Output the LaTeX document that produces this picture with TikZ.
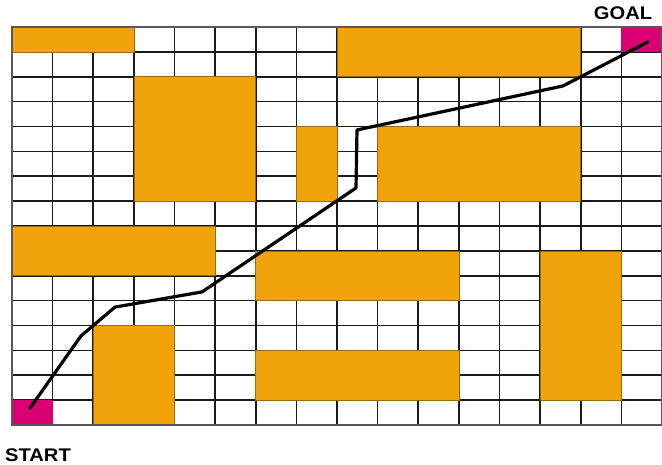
\documentclass[tikz,border=0pt]{standalone}
\usepackage{fontspec}
\setmainfont{Liberation Sans}
\definecolor{blockorange}{HTML}{F0A30A}
\definecolor{blockedge}{HTML}{9A6A10}
\definecolor{endmagenta}{HTML}{D80073}
\definecolor{gridline}{HTML}{1A1A1A}
\begin{document}
\begin{tikzpicture}[x=1pt,y=-1pt,
  gridstyle/.style={draw=gridline,line width=1.6pt},
  blockstyle/.style={fill=blockorange,draw=blockedge,line width=0.6pt},
  endstyle/.style={fill=endmagenta},
  pathstyle/.style={draw=black,line width=3.2pt,line join=round,line cap=round},
  labelstyle/.style={font=\bfseries\fontsize{18.3}{21}\selectfont,inner sep=0pt,xscale=1.1}]
\useasboundingbox (0,0) rectangle (662,465);
\fill[white] (0,0) rectangle (662,465);
\begin{scope}[shift={(12,27)},x=40.625pt,y=-24.875pt]
  % grid
  \foreach \k in {1,...,15} {
    \draw[gridstyle] (\k,0) -- (\k,16);
    \draw[gridstyle] (0,\k) -- (16,\k);
  }
  % obstacles
  \draw[blockstyle] (0,0) rectangle (3,1);
  \draw[blockstyle] (3,2) rectangle (6,7);
  \draw[blockstyle] (7,4) rectangle (8,7);
  \draw[blockstyle] (8,0) rectangle (14,2);
  \draw[blockstyle] (9,4) rectangle (14,7);
  \draw[blockstyle] (0,8) rectangle (5,10);
  \draw[blockstyle] (6,9) rectangle (11,11);
  \draw[blockstyle] (6,13) rectangle (11,15);
  \draw[blockstyle] (13,9) rectangle (15,15);
  \draw[blockstyle] (2,12) rectangle (4,16);
  % start and goal cells
  \fill[endstyle] (0,15) rectangle (1,16);
  \fill[endstyle] (15,0) rectangle (16,1);
  \draw[draw=gray!70!black,line width=1.2pt] (0,0) rectangle (16,16);
  % path
  \coordinate (p0) at (0.443,15.32);
  \coordinate (p1) at (1.698,12.42);
  \coordinate (p2) at (2.535,11.26);
  \coordinate (p3) at (4.677,10.65);
  \coordinate (p4) at (8.468,6.47);
  \coordinate (p5) at (8.492,4.14);
  \coordinate (p6) at (13.563,2.37);
  \coordinate (p7) at (15.655,0.60);
  \draw[pathstyle] (p0) -- (p1) -- (p2) -- (p3) -- (p4) -- (p5) -- (p6) -- (p7);
\end{scope}
\node[labelstyle] (goal) at (623,13.5) {GOAL};
\node[labelstyle] (start) at (38,455) {START};
\end{tikzpicture}
\end{document}
